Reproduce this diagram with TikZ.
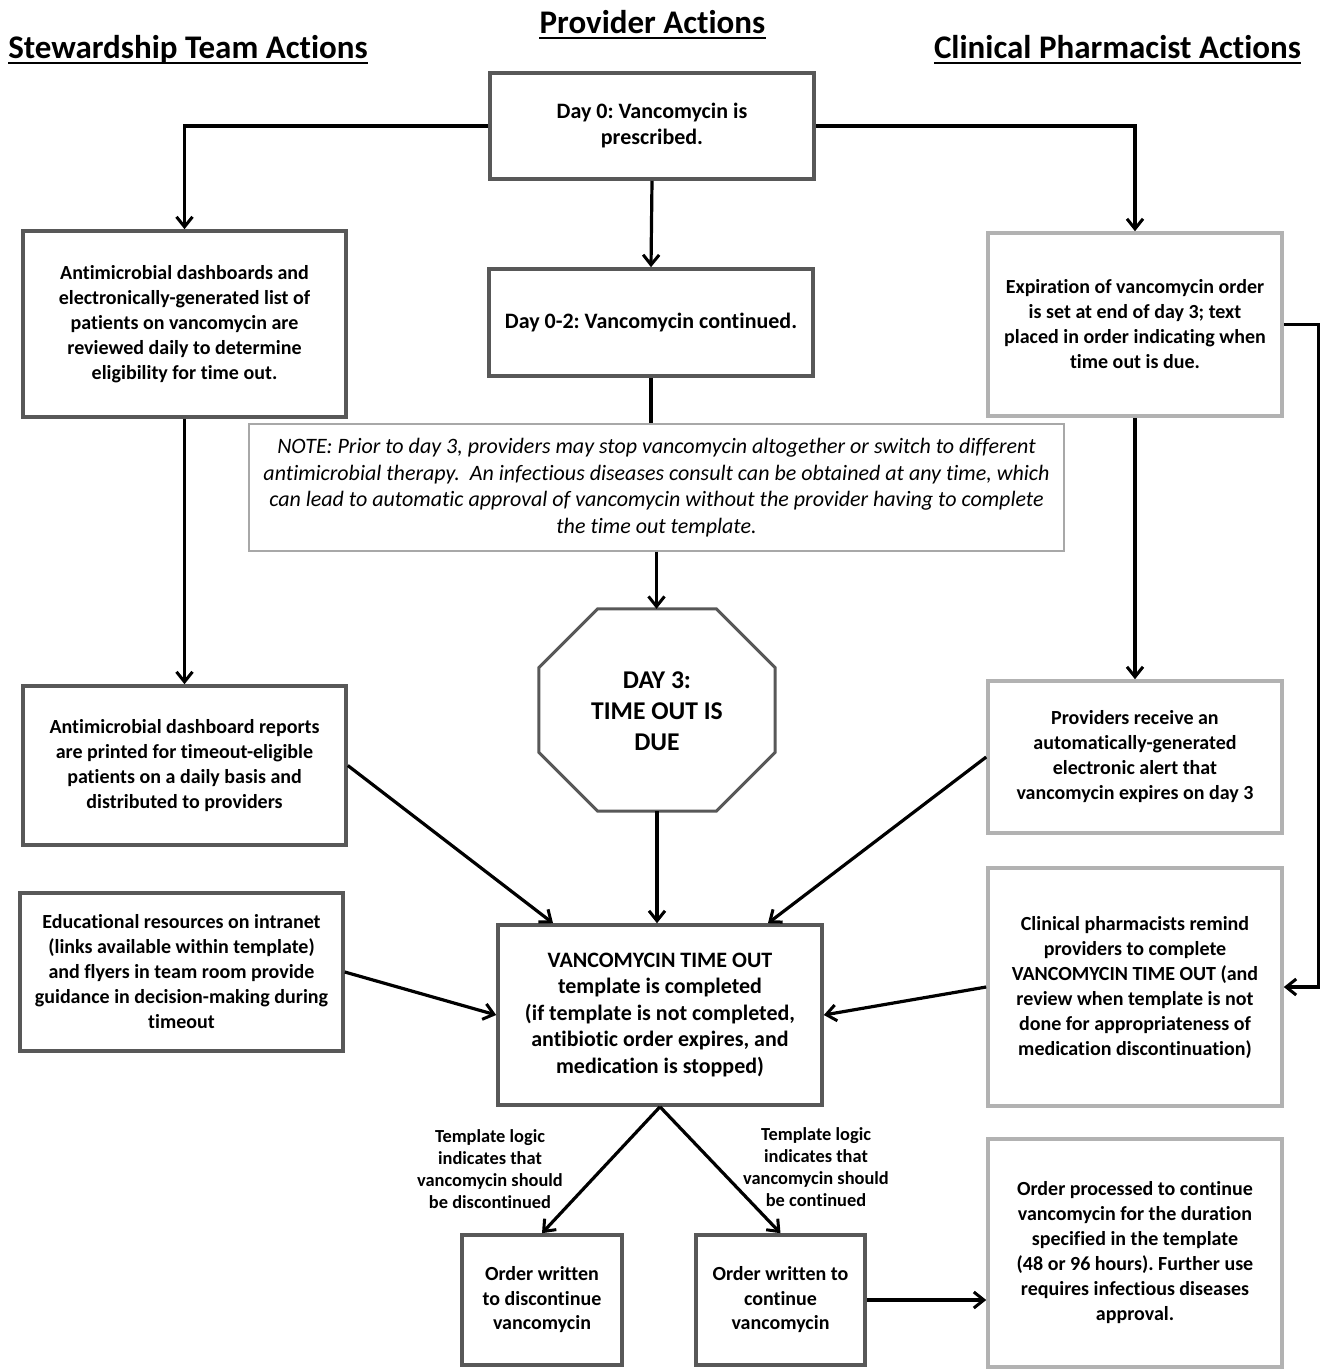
\documentclass[tikz,border=0pt]{standalone}
\usepackage{fontspec}
\setmainfont{Carlito}[Ligatures={NoCommon}]
\usetikzlibrary{arrows.meta,calc}
\definecolor{darkb}{HTML}{585858}
\definecolor{lightb}{HTML}{B2B2B2}
\definecolor{noteb}{HTML}{A8A8A8}
\frenchspacing
\begin{document}
\begin{tikzpicture}[x=1pt,y=-1pt,
  boxbase/.style={rectangle, align=center, fill=white, inner sep=0pt,
    font=\bfseries\fontsize{20}{25}\selectfont},
  darkbox/.style={boxbase, draw=darkb, line width=3.6pt},
  lightbox/.style={boxbase, draw=lightb, line width=3.6pt},
  notebox/.style={rectangle, align=center, fill=white, inner sep=0pt, draw=noteb, line width=1.3pt,
    font=\itshape\fontsize{22}{26.7}\selectfont},
  hdr/.style={inner sep=0pt, anchor=base, font=\bfseries\fontsize{33}{36}\selectfont},
  uline/.style={line width=2.4pt},
  conn/.style={line width=3.2pt, -{Straight Barb[length=10pt,width=16pt,line width=3pt]}},
  plain/.style={line width=3.2pt},
  lbl/.style={align=center, inner sep=0pt, font=\bfseries\fontsize{18.4}{22}\selectfont}
]
\useasboundingbox (0,0) rectangle (1328,1369);

% headers
\node[hdr] (hs) at (188,58) {Stewardship Team Actions};
\node[hdr] (hp) at (652.5,33) {Provider Actions};
\node[hdr] (hc) at (1117.5,58) {Clinical Pharmacist Actions};
\foreach \h in {hs,hp,hc}{
  \draw[uline] ([yshift=-5pt]\h.base west) -- ([yshift=-5pt]\h.base east);
}

% boxes
\node[darkbox, minimum width=324, minimum height=106,
  font=\bfseries\fontsize{22}{26}\selectfont] (d0) at (652,126)
  {Day 0: Vancomycin is\\prescribed.};
\node[darkbox, minimum width=324, minimum height=107,
  font=\bfseries\fontsize{22}{26}\selectfont] (d2) at (651,322.5)
  {Day 0-2: Vancomycin continued.};
\node[darkbox, minimum width=323, minimum height=186] (l1) at (184.5,324)
  {Antimicrobial dashboards and\\electronically-generated list of\\patients on vancomycin are\\reviewed daily to determine\\eligibility for time out.};
\node[lightbox, minimum width=294, minimum height=183] (r1) at (1135,324.5)
  {Expiration of vancomycin order\\is set at end of day 3; text\\placed in order indicating when\\time out is due.};
\node[notebox, minimum width=815, minimum height=127] (note) at (656.5,487.5)
  {NOTE: Prior to day 3, providers may stop vancomycin altogether or switch to different\\antimicrobial therapy.\ \ An infectious diseases consult can be obtained at any time, which\\can lead to automatic approval of vancomycin without the provider having to complete\\the time out template.};

% octagon
\node[rectangle, inner sep=0pt, minimum width=236, minimum height=202] (oct) at (657,710) {};
\draw[draw=darkb, line width=3pt, fill=white, line join=miter]
  ([xshift=59pt]oct.north west) -- ([xshift=-59pt]oct.north east)
  -- ([yshift=-59pt]oct.north east) -- ([yshift=59pt]oct.south east)
  -- ([xshift=-59pt]oct.south east) -- ([xshift=59pt]oct.south west)
  -- ([yshift=59pt]oct.south west) -- ([yshift=-59pt]oct.north west) -- cycle;
\node[align=center, inner sep=0pt, font=\bfseries\fontsize{25.6}{31}\selectfont] (octtxt) at (657,711)
  {DAY 3:\\TIME OUT IS\\DUE};

\node[darkbox, minimum width=323, minimum height=159] (l2) at (184.5,765.5)
  {Antimicrobial dashboard reports\\are printed for timeout-eligible\\patients on a daily basis and\\distributed to providers};
\node[lightbox, minimum width=294, minimum height=152] (r2) at (1135,757)
  {Providers receive an\\automatically-generated\\electronic alert that\\vancomycin expires on day 3};
\node[darkbox, minimum width=323, minimum height=158] (l3) at (181.5,972)
  {Educational resources on intranet\\(links available within template)\\and flyers in team room provide\\guidance in decision-making during\\timeout};
\node[lightbox, minimum width=294, minimum height=238] (r3) at (1135,987)
  {Clinical pharmacists remind\\providers to complete\\VANCOMYCIN TIME OUT (and\\review when template is not\\done for appropriateness of\\medication discontinuation)};
\node[darkbox, minimum width=324, minimum height=180,
  font=\bfseries\fontsize{22}{26.5}\selectfont] (c) at (660,1015)
  {VANCOMYCIN TIME OUT\\template is completed\\(if template is not completed,\\antibiotic order expires, and\\medication is stopped)};
\node[darkbox, minimum width=160, minimum height=130,
  font=\bfseries\fontsize{20}{24.5}\selectfont] (bl) at (542,1300)
  {Order written\\to discontinue\\vancomycin};
\node[darkbox, minimum width=169, minimum height=130,
  font=\bfseries\fontsize{20}{24.5}\selectfont] (bm) at (780.5,1300)
  {Order written to\\continue\\vancomycin};
\node[lightbox, minimum width=294, minimum height=228] (br) at (1135,1253)
  {Order processed to continue\\vancomycin for the duration\\specified in the template\\(48 or 96 hours). Further use\\requires infectious diseases\\approval.};

% labels
\node[lbl] (lab1) at (490,1169) {Template logic\\indicates that\\vancomycin should\\be discontinued};
\node[lbl] (lab2) at (816,1167) {Template logic\\indicates that\\vancomycin should\\be continued};

% connectors
\draw[conn] (d0.west) -| (l1.north);
\draw[conn] (d0.east) -| (r1.north);
\draw[conn] (d0.south) -- (d2.north);
\draw[plain] (d2.south) -- (d2.south |- note.north);
\draw[conn] (note.south) -- (note.south |- oct.north);
\draw[conn] (l1.south) -- (l2.north);
\draw[conn] (r1.south) -- (r2.north);
\draw[conn] (r1.east) -- ++(35,0) |- (r3.east);
\draw[conn] (oct.south) -- (oct.south |- c.north);
\draw[conn] (l2.east) -- ([xshift=-107pt]c.north);
\draw[conn] (r2.west) -- ([xshift=108pt]c.north);
\draw[conn] (l3.east) -- (c.west);
\draw[conn] (r3.west) -- (c.east);
\draw[conn] (c.south) -- (bl.north);
\draw[conn] (c.south) -- (bm.north);
\draw[conn] (bm.east) -- (bm.east -| br.west);
\end{tikzpicture}
\end{document}
